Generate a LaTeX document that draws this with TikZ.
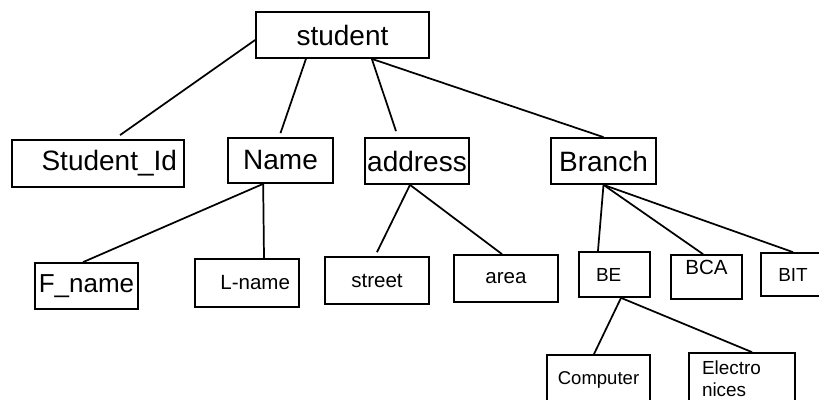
\documentclass[tikz,border=0pt]{standalone}
\usepackage{fontspec}
\setmainfont{Liberation Sans}
\begin{document}
\begin{tikzpicture}[x=7.5pt, y=7.5pt, line width=1.3pt]
\tikzstyle{every node}+=[inner sep=0pt]
\tikzstyle{entbox}=[draw, black, line width=1.3pt, align=center]
\tikzstyle{bigtext}=[font=\fontsize{21}{25}\selectfont]
\tikzstyle{midtext}=[font=\fontsize{15.4}{18}\selectfont]
\tikzstyle{smalltext}=[font=\fontsize{14.2}{16.5}\selectfont]
\useasboundingbox (0,0) rectangle (81.9,-40);
% top level
\node [entbox, bigtext, minimum width=129.75pt, minimum height=34.5pt] (student) at (34.25,-3.5) {student};
% second level
\node [entbox, bigtext, minimum height=35.25pt, text width=118.5pt, inner xsep=5.25pt, align=right] (stuid) at (9.8,-16.35) {Student\_Id};
\node [entbox, bigtext, minimum width=78.75pt, minimum height=33.75pt] (name) at (28.05,-16.05) {Name};
\node [entbox, bigtext, minimum width=78pt, minimum height=34.5pt] (address) at (41.7,-16.1) {address};
\node [entbox, bigtext, minimum width=78.75pt, minimum height=34.5pt] (branch) at (60.35,-16.1) {Branch};
% third level
\node [entbox, font=\fontsize{19.5}{23}\selectfont, minimum width=77.25pt, minimum height=34.5pt] (fname) at (8.65,-28.6) {F\_name};
\node [entbox, midtext, minimum height=36pt, text width=64.5pt, inner xsep=6.75pt, align=right] (lname) at (24.7,-28.3) {L-name};
\node [entbox, midtext, minimum width=78pt, minimum height=35.25pt] (street) at (37.7,-28.05) {street};
\node [entbox, midtext, minimum width=78pt, minimum height=35.25pt] (area) at (50.6,-27.85) {area};
\node [entbox, smalltext, minimum height=33.75pt, text width=27.75pt, inner xsep=12.75pt, align=left] (be) at (61.45,-27.45) {BE};
\node [entbox, midtext, minimum width=53.25pt, minimum height=33pt, text depth=15pt] (bca) at (70.65,-27.7) {BCA};
\node [entbox, smalltext, minimum width=48pt, minimum height=32.25pt] (bit) at (79.3,-27.45) {BIT};
% fourth level
\node [entbox, font=\fontsize{13.9}{16.5}\selectfont, minimum width=77.25pt, minimum height=37.5pt] (comp) at (59.85,-38) {Computer};
\node [entbox, smalltext, minimum height=39pt, text width=60pt, inner xsep=9.75pt, align=left] (elec) at (74.2,-37.9) {Electro\\nices};
% connectors
\draw [black] ([yshift=-3.75pt]student.west) -- ([xshift=16.5pt,yshift=3pt]stuid.north);
\draw [black] ([xshift=-27.4pt]student.south) -- ([yshift=3pt]name.north);
\draw [black] ([xshift=22pt]student.south) -- ([xshift=-15.75pt,yshift=4.5pt]address.north);
\draw [black] ([xshift=22pt]student.south) -- (branch.north);
\draw [black] ([xshift=-13pt]name.south) -- ([xshift=-2.6pt]fname.north);
\draw [black] ([xshift=-13pt]name.south) -- ([xshift=12.75pt]lname.north);
\draw [black] ([xshift=-5.25pt]address.south) -- ([yshift=3pt]street.north);
\draw [black] ([xshift=-5.25pt]address.south) -- ([xshift=-3pt]area.north);
\draw [black] (branch.south) -- ([xshift=-12.4pt]be.north);
\draw [black] (branch.south) -- ([xshift=-2.6pt]bca.north);
\draw [black] (branch.south) -- (bit.north);
\draw [black] ([xshift=4.9pt]be.south) -- ([xshift=-3.4pt]comp.north);
\draw [black] ([xshift=4.9pt]be.south) -- ([xshift=7.5pt]elec.north);
\end{tikzpicture}
\end{document}
